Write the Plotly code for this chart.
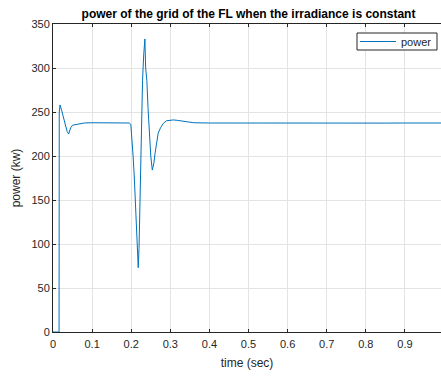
import plotly.graph_objects as go

time_s = [0.0, 0.0155, 0.016, 0.018, 0.022, 0.03, 0.036, 0.04, 0.045, 0.05, 0.06, 0.08, 0.1, 0.15,
          0.18, 0.195, 0.199, 0.202, 0.205, 0.208, 0.212, 0.215, 0.218, 0.220, 0.222, 0.224, 0.227,
          0.229, 0.232, 0.235, 0.237, 0.240, 0.243, 0.246, 0.250, 0.254, 0.258, 0.261, 0.265, 0.269,
          0.275, 0.282, 0.29, 0.30, 0.308, 0.318, 0.325, 0.335, 0.345, 0.36, 0.40, 0.45, 0.5, 0.55,
          0.6, 0.65, 0.7, 0.75, 0.8, 0.85, 0.9, 0.95, 1.0]
power_kw = [0, 0, 250, 258, 252, 238, 228, 225, 232, 235, 236, 237.5, 237.8, 237.7,
            237.0, 237.5, 236, 220, 199, 175, 135, 110, 73, 95, 140, 195, 250,
            286, 315, 333, 300, 286, 255, 229, 200, 184, 192, 203, 216, 226,
            232, 237, 240, 241, 241, 240.5, 240, 239, 238.3, 237.8, 237.5, 237.4, 237.6, 237.5,
            237.5, 237.4, 237.5, 237.6, 237.5, 237.4, 237.5, 237.5, 237.5]

x_ticks = [0, 0.1, 0.2, 0.3, 0.4, 0.5, 0.6, 0.7, 0.8, 0.9, 1]
y_ticks = [0, 50, 100, 150, 200, 250, 300, 350]

AX = "#262626"
GRID = "#e3e3e3"
FONT = "Liberation Sans, Arial, sans-serif"

fig = go.Figure()
fig.add_trace(go.Scatter(x=time_s, y=power_kw, mode="lines", name="power",
                         line=dict(color="#0072BD", width=1)))

# legend frame (pixel geometry converted to paper coords)
fig.add_shape(type="rect", xref="paper", yref="paper",
              x0=(357 - 53) / 388, x1=(437 - 53) / 388,
              y0=(332 - 50) / 308, y1=(332 - 33) / 308,
              line=dict(color=AX, width=1), fillcolor="white", layer="above")

fig.update_layout(
    width=441, height=376,
    margin=dict(l=53, r=0, t=24, b=44),
    paper_bgcolor="white", plot_bgcolor="white",
    font=dict(family=FONT, size=11, color=AX),
    title=dict(text="<b>power of the grid of the FL when the irradiance is constant</b>",
               x=248.5 / 441, xanchor="center", y=1 - 13.5 / 376, yanchor="middle",
               font=dict(size=12, color="black")),
    showlegend=True,
    legend=dict(x=(437 - 53) / 388, xanchor="right", y=(332 - 27) / 308, yanchor="top",
                bgcolor="rgba(0,0,0,0)", borderwidth=0,
                font=dict(size=11, color=AX), itemwidth=36,
                tracegroupgap=0),
)
fig.update_xaxes(range=[0, 388 / 391], tickvals=x_ticks, ticktext=[str(v) for v in x_ticks],
                 showgrid=True, gridcolor=GRID, gridwidth=1,
                 showline=True, linecolor=AX, linewidth=1, mirror="allticks",
                 ticks="inside", ticklen=3, tickcolor=AX, zeroline=False,
                 ticklabelstandoff=2,
                 title=dict(text="time (sec)", font=dict(size=12, color=AX), standoff=9))
fig.update_yaxes(range=[0, 350], tickvals=y_ticks,
                 showgrid=True, gridcolor=GRID, gridwidth=1,
                 showline=True, linecolor=AX, linewidth=1, mirror=False,
                 ticks="inside", ticklen=3, tickcolor=AX, zeroline=False,
                 title=dict(text="power (kw)", font=dict(size=12, color=AX), standoff=8))

fig.write_html("out.html")
